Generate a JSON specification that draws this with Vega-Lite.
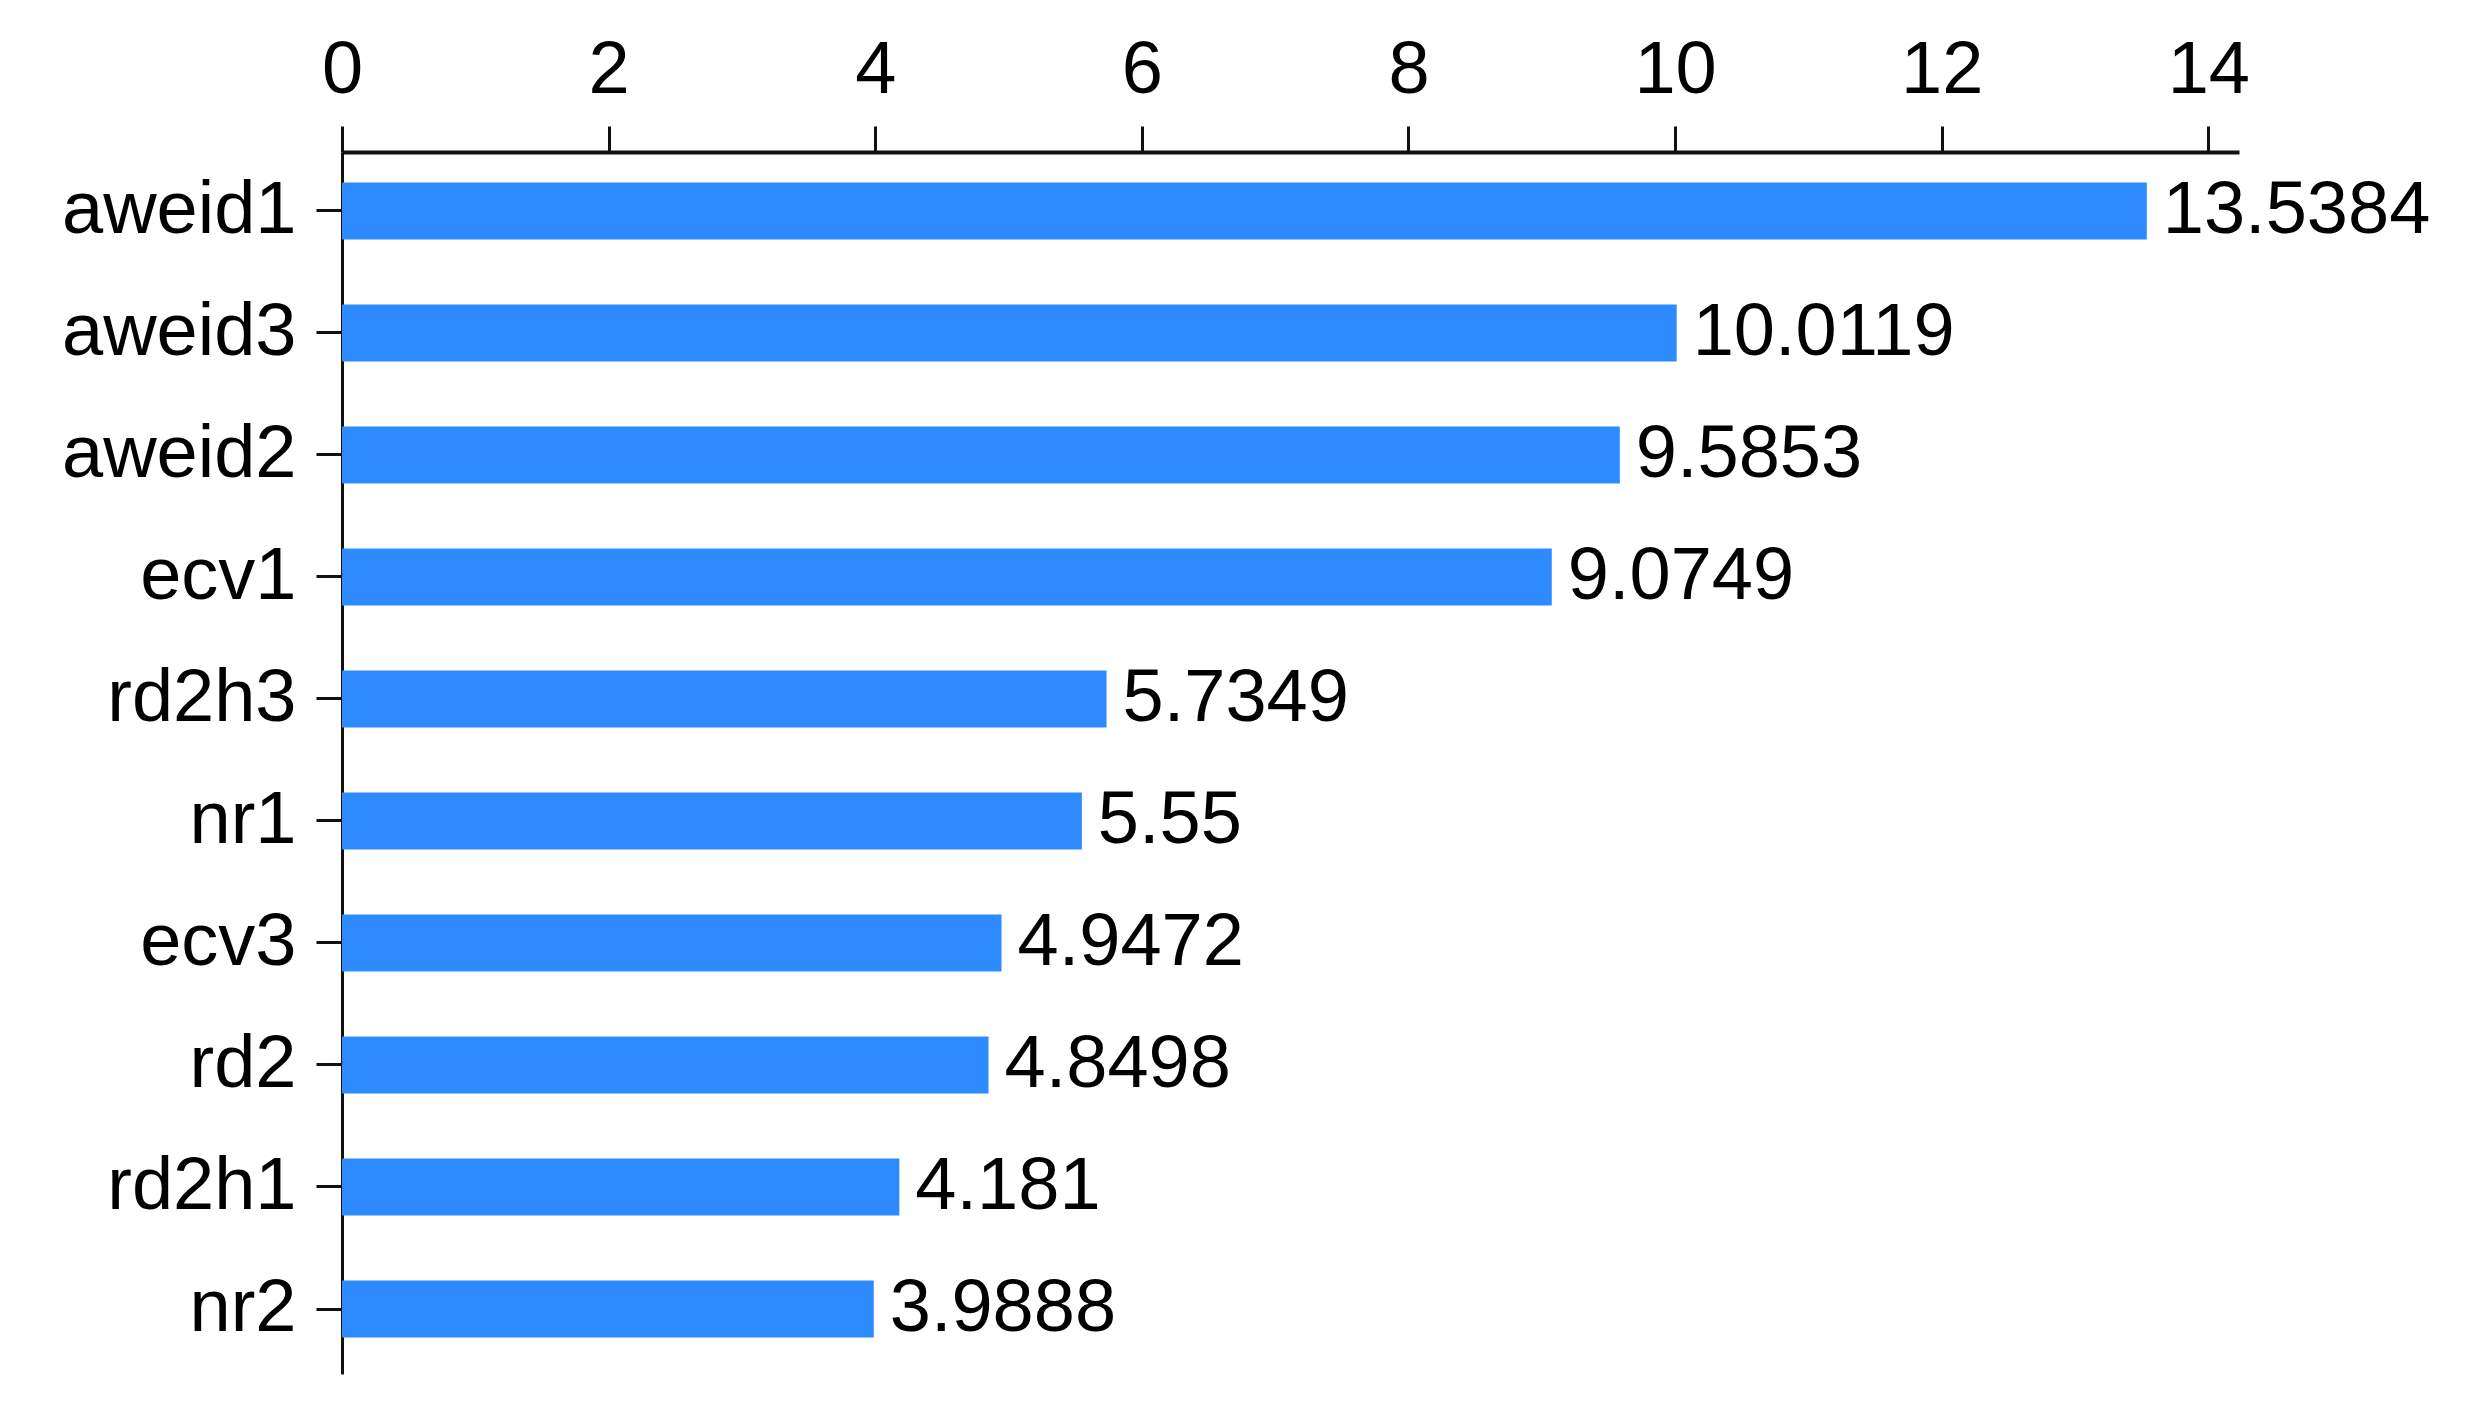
{
  "$schema": "https://vega.github.io/schema/vega-lite/v6.json",
  "autosize": "none",
  "width": 1897,
  "height": 1222,
  "padding": {"left": 342, "top": 152, "right": 242, "bottom": 49},
  "background": "white",
  "config": {"view": {"stroke": null}, "font": "Liberation Sans"},
  "data": {"values": [
    {"name": "aweid1", "value": 13.5384, "label": "13.5384"},
    {"name": "aweid3", "value": 10.0119, "label": "10.0119"},
    {"name": "aweid2", "value": 9.5853, "label": "9.5853"},
    {"name": "ecv1", "value": 9.0749, "label": "9.0749"},
    {"name": "rd2h3", "value": 5.7349, "label": "5.7349"},
    {"name": "nr1", "value": 5.55, "label": "5.55"},
    {"name": "ecv3", "value": 4.9472, "label": "4.9472"},
    {"name": "rd2", "value": 4.8498, "label": "4.8498"},
    {"name": "rd2h1", "value": 4.181, "label": "4.181"},
    {"name": "nr2", "value": 3.9888, "label": "3.9888"}
  ]},
  "encoding": {
    "y": {
      "field": "name", "type": "nominal", "sort": null,
      "scale": {"paddingInner": 0.534, "paddingOuter": 0.275, "align": 0.455},
      "axis": {
        "title": null, "orient": "left", "labelLimit": 0,
        "labelFont": "Liberation Sans", "labelFontSize": 74, "labelColor": "#000",
        "labelPadding": 20, "tickSize": 26, "tickWidth": 3, "tickColor": "#111",
        "domainColor": "#111", "domainWidth": 3, "grid": false
      }
    },
    "x": {
      "field": "value", "type": "quantitative",
      "scale": {"domain": [0, 14.23], "nice": false, "zero": true},
      "axis": {
        "title": null, "orient": "top", "values": [0, 2, 4, 6, 8, 10, 12, 14],
        "labelFont": "Liberation Sans", "labelFontSize": 74, "labelColor": "#000",
        "labelPadding": 18, "tickSize": 26, "tickWidth": 3, "tickColor": "#111",
        "domainColor": "#111", "domainWidth": 4, "grid": false, "labelFlush": false
      }
    }
  },
  "layer": [
    {"mark": {"type": "bar", "color": "#2E8BFF"}},
    {"mark": {"type": "text", "align": "left", "baseline": "middle", "dx": 16, "fontSize": 74, "font": "Liberation Sans", "color": "#000"},
     "encoding": {"text": {"field": "label"}}}
  ]
}
